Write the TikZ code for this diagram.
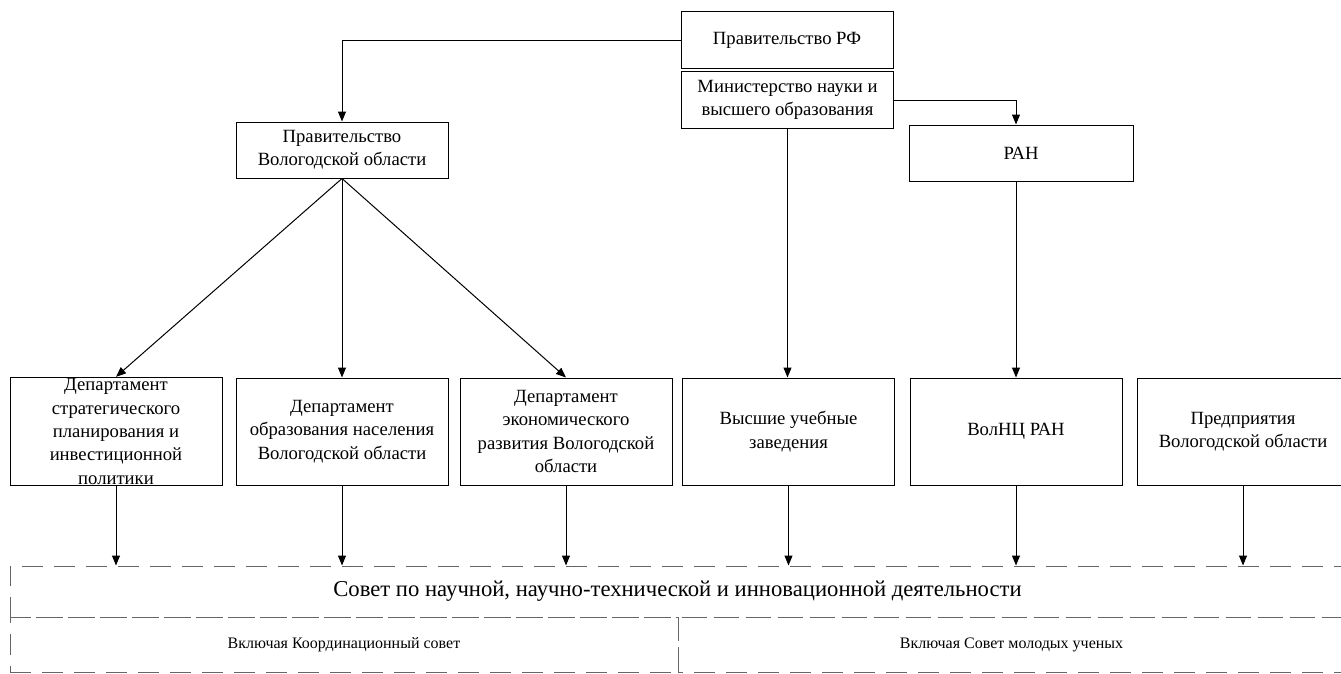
\documentclass[tikz,border=0pt]{standalone}
\usepackage{fontspec}
\setmainfont{Liberation Serif}
\usetikzlibrary{arrows.meta}

\begin{document}
\begin{tikzpicture}[x=0.75pt,y=-0.75pt,line width=0.75pt,
    box/.style={draw,align=center,inner sep=1pt,minimum width=159pt,font=\fontsize{14}{17.5}\selectfont},
    dept/.style={box,minimum height=80.25pt},
    arr/.style={-{Triangle[length=7.5pt,width=6pt]}},
    dashbox/.style={draw=black!60,dash pattern=on 16pt off 8pt,inner sep=0pt}]
    \useasboundingbox (0,0) rectangle (1341,674);

    \node[box,minimum height=42.75pt] (rf) at (787,40.5) {Правительство РФ};
    \node[box,minimum height=42pt] (minobr) at (787.5,100) {Министерство науки и\\высшего образования};
    \node[box,minimum height=42pt,minimum width=168pt] (ran) at (1021,153) {РАН};
    \node[box,minimum height=42pt] (volgov) at (342,150) {Правительство\\Вологодской области};

    \node[dept] (d1) at (116,431.5) {Департамент\\стратегического\\планирования и\\инвестиционной\\политики};
    \node[dept] (d2) at (342,431.5) {Департамент\\образования населения\\Вологодской области};
    \node[dept] (d3) at (566,431.5) {Департамент\\экономического\\развития Вологодской\\области};
    \node[dept] (vuz) at (788.5,431.5) {Высшие учебные\\заведения};
    \node[dept] (volnc) at (1016,431.5) {ВолНЦ РАН};
    \node[dept] (pred) at (1243,431.5) {Предприятия\\Вологодской области};

    \node[dashbox,minimum width=1001.25pt,minimum height=38.25pt,font=\fontsize{17}{20}\selectfont] (sovet) at (677.5,591.5) {Совет по научной, научно-технической и инновационной деятельности};
    \node[dashbox,minimum width=501pt,minimum height=41.25pt,font=\fontsize{12}{14}\selectfont] (koord) at (344,644.5) {Включая Координационный совет};
    \node[dashbox,dash phase=12pt,minimum width=500.25pt,minimum height=41.25pt,font=\fontsize{12}{14}\selectfont] (molod) at (1011.5,644.5) {Включая Совет молодых ученых};

    % upper links
    \draw[arr] (rf.west) -| (volgov.north);
    \draw[arr] (minobr.east) -| (volnc.north |- ran.north);
    \draw[arr] (minobr.south) -- (minobr.south |- vuz.north);
    \draw[arr] (volnc.north |- ran.south) -- (volnc.north);
    \draw[arr] (volgov.south) -- (d1.north);
    \draw[arr] (volgov.south) -- (d2.north);
    \draw[arr] (volgov.south) -- (d3.north);

    % down to the council
    \foreach \n in {d1,d2,d3,vuz,volnc,pred}
        \draw[arr] (\n.south) -- (\n.south |- sovet.north);
\end{tikzpicture}
\end{document}
